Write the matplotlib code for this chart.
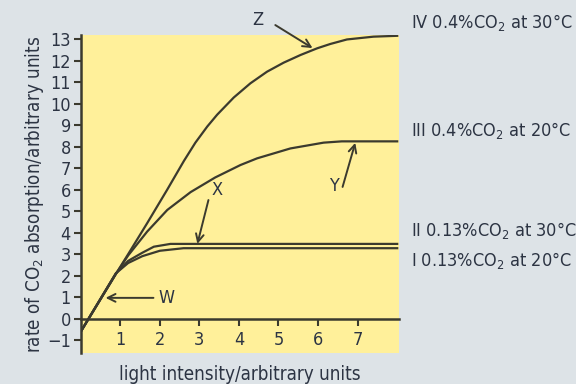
import matplotlib
matplotlib.use("Agg")
import matplotlib.pyplot as plt

# ---- Data ----
x_iv = [0, 0.9, 1.18, 1.68, 2.19, 2.61, 2.9, 3.2, 3.45, 3.87, 4.29, 4.71, 5.13,
        5.56, 5.98, 6.31, 6.73, 7.4, 8.0]
y_iv = [-0.6, 2.12, 2.95, 4.45, 6.02, 7.35, 8.2, 8.95, 9.5, 10.3, 10.96, 11.5, 11.92,
        12.28, 12.59, 12.79, 13.0, 13.13, 13.17]

x_iii = [0, 0.9, 1.2, 1.68, 2.19, 2.78, 3.4, 4.04, 4.46, 5.3, 6.14, 6.6, 8.0]
y_iii = [-0.6, 2.12, 2.95, 4.06, 5.07, 5.9, 6.58, 7.16, 7.47, 7.93, 8.2, 8.26, 8.26]

x_ii = [0, 0.89, 1.2, 1.56, 1.85, 2.27, 8.0]
y_ii = [-0.6, 2.12, 2.7, 3.08, 3.36, 3.49, 3.49]

x_i = [0, 0.89, 1.2, 1.56, 2.0, 2.6, 8.0]
y_i = [-0.6, 2.12, 2.6, 2.92, 3.17, 3.29, 3.29]

curve_labels = ["IV 0.4%CO$_2$ at 30°C", "III 0.4%CO$_2$ at 20°C",
                "II 0.13%CO$_2$ at 30°C", "I 0.13%CO$_2$ at 20°C"]
label_y = [13.8, 8.75, 4.1, 2.7]

xticks = [1, 2, 3, 4, 5, 6, 7]
yticks = list(range(-1, 14))

# ---- Style ----
plt.rcParams["font.family"] = ["DejaVu Sans"]
plt.rcParams["font.stretch"] = "condensed"
plt.rcParams["mathtext.default"] = "regular"

BG = "#dde3e7"
PANEL = "#fff09a"
INK = "#3b3a2e"
TXT = "#2c3443"

fig = plt.figure(figsize=(5.76, 3.84), dpi=100, facecolor=BG)
ax = fig.add_axes([0.140, 0.081, 0.553, 0.828], facecolor=PANEL)

for xs, ys in [(x_iv, y_iv), (x_iii, y_iii), (x_ii, y_ii), (x_i, y_i)]:
    ax.plot(xs, ys, color=INK, lw=1.6, solid_joinstyle="round")

ax.set_xlim(0, 8.05)
ax.set_ylim(-1.58, 13.21)

ax.spines["top"].set_visible(False)
ax.spines["right"].set_visible(False)
ax.spines["bottom"].set_position(("data", 0))
for s in ["left", "bottom"]:
    ax.spines[s].set_color(INK)
    ax.spines[s].set_linewidth(1.8)

ax.set_xticks(xticks)
ax.set_yticks(yticks)
ax.set_yticklabels([("\u2212" + str(-v)) if v < 0 else str(v) for v in yticks])
ax.tick_params(axis="both", colors=INK, labelcolor=TXT, labelsize=13,
               length=5, width=1.5, direction="out")
ax.tick_params(axis="x", pad=4)
ax.tick_params(axis="y", pad=2)

ax.set_xlabel("light intensity/arbitrary units", fontsize=13.5, color=TXT, labelpad=11)
ax.set_ylabel("rate of CO$_2$ absorption/arbitrary units", fontsize=13.5, color=TXT, labelpad=1)

# right-hand curve labels
for lab, yy in zip(curve_labels, label_y):
    ax.text(8.35, yy, lab, fontsize=13, color=TXT, va="center", ha="left", clip_on=False)

# arrows
arr = dict(arrowstyle="->", color=INK, lw=1.4, mutation_scale=14, shrinkA=0, shrinkB=0)
ax.annotate("", xy=(5.86, 12.6), xytext=(4.92, 13.67), arrowprops=arr, annotation_clip=False)
ax.text(4.47, 13.9, "Z", fontsize=13, color=TXT, ha="center", va="center", clip_on=False)
ax.annotate("", xy=(6.94, 8.19), xytext=(6.62, 6.14), arrowprops=arr)
ax.text(6.39, 6.2, "Y", fontsize=13, color=TXT, ha="center", va="center")
ax.annotate("", xy=(2.95, 3.49), xytext=(3.23, 5.53), arrowprops=arr)
ax.text(3.45, 6.0, "X", fontsize=13, color=TXT, ha="center", va="center")
ax.annotate("", xy=(0.63, 0.98), xytext=(1.84, 0.98), arrowprops=arr)
ax.text(2.17, 0.98, "W", fontsize=13, color=TXT, ha="center", va="center")

fig.savefig("out.png", dpi=100, facecolor=BG)
